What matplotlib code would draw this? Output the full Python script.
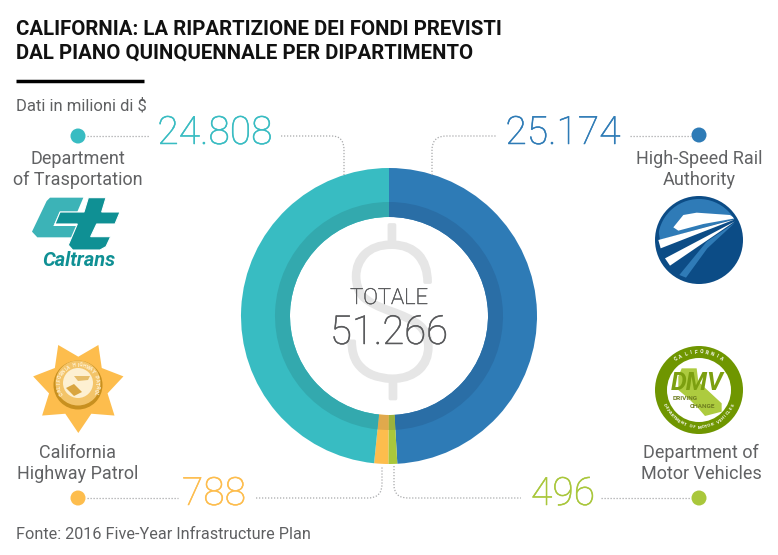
#!/usr/bin/python

import numpy as np
import matplotlib
matplotlib.use("Agg")
import matplotlib.pyplot as plt
import matplotlib.patheffects as pe
from matplotlib.patches import Circle, Polygon, PathPatch
from matplotlib.path import Path

# dati
departments = ["High-Speed Rail\nAuthority", "Department of\nMotor Vehicles",
               "California\nHighway Patrol", "Department\nof Trasportation"]
funds = [25174, 496, 788, 24808]
fund_labels = ["25.174", "496", "788", "24.808"]
total_label = "51.266"
outer_colors = ["#2e7bb6", "#a9c73b", "#fdbd4d", "#38bcc2"]
inner_colors = ["#2a6ea6", "#9cb23d", "#e0a94c", "#33a9ae"]

W, H = 778, 555
plt.rcParams["font.family"] = ["Roboto", "DejaVu Sans"]

def px(size):
	# font size in pixel -> points
	return size * 0.72

def heavier(color, w=0.35):
	return [pe.withStroke(linewidth=w, foreground=color)]

fig = plt.figure(figsize=(W / 100, H / 100), dpi=100, facecolor="white")

# sfondo col dollaro
bg = fig.add_axes([0, 0, 1, 1], zorder=0)
bg.set_xlim(0, W)
bg.set_ylim(H, 0)
bg.axis("off")
bg.text(390, 327.5, "$", fontsize=px(190), color="#e6e6e6", ha="center", va="center", weight="light",
	path_effects=heavier("#e6e6e6", 2.6))

# ciambella
cx, cy, r_out, r_mid, r_in = 389, 316, 148, 114, 99
pie = fig.add_axes([(cx - r_out) / W, 1 - (cy + r_out) / H, 2 * r_out / W, 2 * r_out / H], zorder=1)
pie.patch.set_alpha(0)
pie.pie(funds, colors=outer_colors, radius=1, startangle=90, counterclock=False,
	wedgeprops=dict(width=(r_out - r_in) / r_out, linewidth=0))
pie.pie(funds, colors=inner_colors, radius=r_mid / r_out, startangle=90, counterclock=False,
	wedgeprops=dict(width=(r_mid - r_in) / r_out, linewidth=0))
pie.set_xlim(-1, 1)
pie.set_ylim(-1, 1)

# tutto il resto in pixel
ax = fig.add_axes([0, 0, 1, 1], zorder=2)
ax.set_xlim(0, W)
ax.set_ylim(H, 0)
ax.axis("off")
ax.patch.set_alpha(0)

# titolo
ax.text(16, 35, "CALIFORNIA: LA RIPARTIZIONE DEI FONDI PREVISTI", fontsize=px(20.4), weight="bold", color="#111111", va="baseline")
ax.text(16, 59, "DAL PIANO QUINQUENNALE PER DIPARTIMENTO", fontsize=px(20.4), weight="bold", color="#111111", va="baseline")
ax.plot([16, 144.5], [80.6, 80.6], color="black", lw=2.5, solid_capstyle="butt")
ax.text(16, 110, "Dati in milioni di $", fontsize=px(16.6), color="#5f6062", va="baseline")
ax.text(16, 539, "Fonte: 2016 Five-Year Infrastructure Plan", fontsize=px(16.3), color="#5f6062", va="baseline")

# centro
ax.text(389, 304, "TOTALE", fontsize=px(22), color="#58595b", ha="center", va="baseline", weight="light", path_effects=heavier("#58595b"))
ax.text(389, 344, total_label, fontsize=px(40), color="#58595b", ha="center", va="baseline", weight="light", path_effects=heavier("#58595b"))

# valori ed etichette: alta velocita, dmv, chp, caltrans
num_x = [563, 563, 214, 215]
num_y = [144, 505, 505, 144]
dot_x = [699, 699, 78, 78]
dot_y = [135, 498, 498, 136]
name_x = [699, 701, 78, 78]
name_y = [164, 458, 458, 164]
for i in range(4):
	ax.text(num_x[i], num_y[i], fund_labels[i], fontsize=px(39), color=outer_colors[i], ha="center", va="baseline", weight="light",
		path_effects=heavier(outer_colors[i]))
	ax.add_patch(Circle((dot_x[i], dot_y[i]), 7.5, color=outer_colors[i], lw=0))
	for j, line in enumerate(departments[i].split("\n")):
		ax.text(name_x[i], name_y[i] + j * 21, line, fontsize=px(18), color="#616264", ha="center", va="baseline")

def dotted(verts, codes=None):
	path = Path(verts, codes)
	ax.add_patch(PathPatch(path, fc="none", ec="#a8a9ab", lw=0.9, ls=(0, (1, 1.4))))

L, Q = Path.LINETO, Path.CURVE3
M = Path.MOVETO
dotted([(87, 136), (150, 136)])
dotted([(281, 136), (332, 136), (344, 136), (344, 150), (344, 175)], [M, L, Q, Q, L])
dotted([(432, 175), (432, 150), (432, 136), (446, 136), (497, 136)], [M, L, Q, Q, L])
dotted([(630, 136), (691, 136)])
dotted([(87, 498), (178, 498)])
dotted([(256, 498), (368, 498), (382, 498), (382, 484), (382, 466)], [M, L, Q, Q, L])
dotted([(394, 466), (394, 485), (394, 498), (408, 498), (521, 498)], [M, L, Q, Q, L])
dotted([(601, 498), (690, 498)])

def ring_text(x, y, r, s, start, step, size, color, weight="bold"):
	# lettere lungo un cerchio, angolo in gradi, 0 in alto, orario se step > 0
	for k, ch in enumerate(s):
		a = np.radians(start + k * step)
		rot = -(start + k * step) if step > 0 else 180 - (start + k * step)
		ax.text(x + r * np.sin(a), y - r * np.cos(a), ch, fontsize=px(size), color=color,
			ha="center", va="center", rotation=rot, rotation_mode="anchor", weight=weight)

# logo caltrans
def zoom1(pts):
	return [(a / 3, 100 + b / 3) for a, b in pts]

ax.add_patch(Polygon(zoom1([(96, 395), (140, 303), (150, 293), (250, 293), (232, 335), (180, 335), (160, 378),
	(230, 378), (215, 412), (112, 412)]), color="#3cb3b7", lw=0))
ax.add_patch(Polygon(zoom1([(165, 372), (180, 336), (252, 336), (265, 293), (318, 293), (305, 336), (360, 336),
	(345, 372), (290, 372), (272, 410), (332, 410), (318, 440), (300, 450), (218, 450), (205, 435), (232, 372)]),
	fc="#0f9094", ec="white", lw=0.8))
ax.text(78.5, 261, "Caltrans", fontsize=px(20), color="#0f9094", weight="bold", style="italic", ha="center", va="center")

# logo alta velocita
def zoom2(pts):
	return [(420 + a / 3, 100 + b / 3) for a, b in pts]

ax.add_patch(Circle((699, 240), 44, color="#0c4c86", lw=0))
clip = Circle((699, 240), 41, transform=ax.transData)
shapes = [
	([(700, 300), (950, 290), (950, 355), (720, 420)], "#2f7bb7"),
	([(945, 368), (860, 425), (778, 525), (798, 533), (862, 445)], "#2f7bb7"),
	([(760, 382), (790, 345), (830, 338), (930, 345), (945, 355), (850, 372), (775, 392)], "white"),
	([(945, 358), (715, 420), (722, 445)], "white"),
	([(945, 364), (735, 475), (750, 497)], "white"),
]
for pts, col in shapes:
	patch = Polygon(zoom2(pts), color=col, lw=0)
	ax.add_patch(patch)
	patch.set_clip_path(clip)

# logo polizia
star = []
for k in range(14):
	a = np.pi + k * np.pi / 7
	rad = 46.3 if k % 2 == 0 else 30
	star.append((78.3 + rad * np.sin(a), 386.7 - rad * np.cos(a)))
ax.add_patch(Polygon(star, color="#fdbd4d", lw=0))
ax.add_patch(Circle((78, 385), 24.5, color="#c8901f", lw=0))
ax.add_patch(Circle((78, 383), 22.5, color="#f3c469", lw=0))
ax.add_patch(Circle((78, 383), 15, color="#fdf0d2", lw=0))
ax.add_patch(Polygon([(66, 388), (74, 384), (82, 392), (74, 396)], color="#d9a540", lw=0))
ax.add_patch(Polygon([(74, 376), (90, 376), (88, 380), (78, 381)], color="#e6bd6a", lw=0))
ring_text(78, 384, 19, "CALIFORNIA HIGHWAY PATROL", -118, 9.8, 5, "#fff3d8")

# logo dmv
ax.add_patch(Circle((699, 390), 44, color="#6f9600", lw=0))
ax.add_patch(Circle((699, 390), 32, color="white", lw=0))
def zoom4(pts):
	return [(370 + a / 3, 340 + b / 3) for a, b in pts]
ax.add_patch(Polygon(zoom4([(935, 85), (980, 85), (985, 125), (1055, 190), (1055, 215), (1005, 228), (985, 205), (955, 175),
	(925, 150), (925, 110)]), color="#adcb3f", lw=0))
ax.text(697, 383, "DMV", fontsize=px(25), color="#7c9f10", weight="bold", style="italic", ha="center", va="center")
ax.text(685, 398, "DRIVING", fontsize=px(6.5), color="#6f7f20", weight="bold", ha="center", va="center")
ax.text(703, 406, "CHANGE", fontsize=px(6.5), color="#6f7f20", weight="bold", ha="center", va="center")
ring_text(699, 390, 38, "CALIFORNIA", -36, 8, 5, "white")
ring_text(699, 390, 37.5, "DEPARTMENT OF MOTOR VEHICLES", 247, -4.9, 4.4, "white")

fig.savefig("out.png", dpi=100)
